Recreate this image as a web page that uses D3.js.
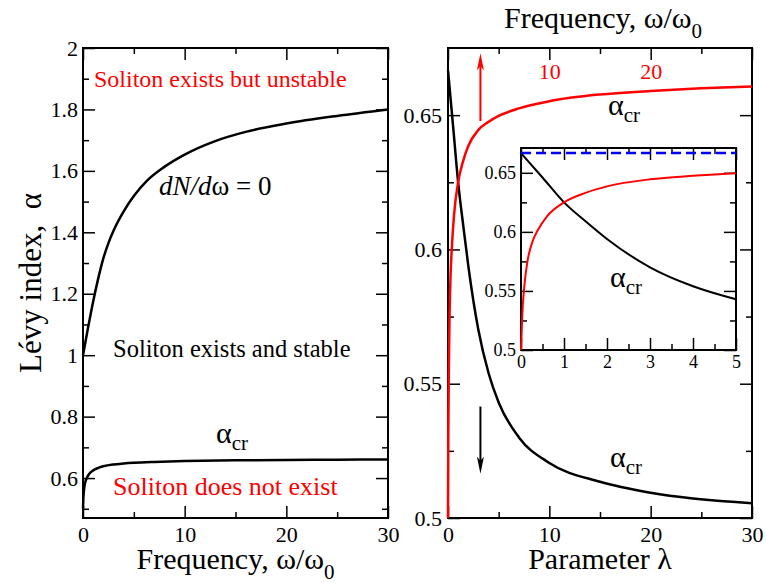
<!DOCTYPE html>
<html>
<head>
<meta charset="utf-8">
<script src="https://cdn.jsdelivr.net/npm/d3@7"></script>
<style>
  body { margin: 0; background: #fff; }
</style>
</head>
<body>
<div class="chart"></div>
<script>
// alpha_cr as function of frequency omega/omega0 (lambda = 0)
const omegaCr = [0, 0.03, 0.08, 0.15, 0.25, 0.4, 0.6, 1, 1.5, 2, 3, 4, 5, 7, 10, 15, 20, 25, 30];
const alphaCrOmega = [0.5, 0.53, 0.555, 0.575, 0.59, 0.602, 0.613, 0.625, 0.633, 0.6385, 0.6445, 0.6475, 0.6497, 0.6525, 0.6552, 0.6577, 0.659, 0.66, 0.6607];

// alpha_cr as function of parameter lambda
const lambdaCr = [0, 0.5, 1, 1.5, 2, 3, 4, 5, 7, 10, 15, 20, 30];
const alphaCrLambda = [0.6667, 0.646, 0.625, 0.609, 0.594, 0.57, 0.554, 0.543, 0.53, 0.5205, 0.5135, 0.5094, 0.5055];

// dN/domega = 0 boundary
const omegaN = [0, 0.5, 1, 1.5, 2, 2.5, 3, 4, 5, 6.3, 8, 10, 13, 16, 20, 25, 30];
const alphaN = [1.0, 1.09, 1.175, 1.25, 1.315, 1.365, 1.405, 1.468, 1.518, 1.568, 1.613, 1.653, 1.697, 1.727, 1.754, 1.779, 1.8];

const alphaLimit = 2 / 3;

// tick values
const leftXTicks = [0, 10, 20, 30];
const leftXMinor = [5, 15, 25];
const leftYTicks = [0.6, 0.8, 1, 1.2, 1.4, 1.6, 1.8, 2];
const leftYMinor = [0.5, 0.7, 0.9, 1.1, 1.3, 1.5, 1.7, 1.9];
const rightXTicks = [0, 10, 20, 30];
const rightXMinor = [5, 15, 25];
const topTicks = [10, 20];
const rightYTicks = [0.5, 0.55, 0.6, 0.65];
const rightYMinor = [0.525, 0.575, 0.625];
const insetXTicks = [0, 1, 2, 3, 4, 5];
const insetXMinor = [0.5, 1.5, 2.5, 3.5, 4.5];
const insetYTicks = [0.5, 0.55, 0.6, 0.65];
const insetYMinor = [0.525, 0.575, 0.625];

const WIDTH = 766, HEIGHT = 583;
const RED = "#ff0000";
const SERIF = '"Liberation Serif", "Times New Roman", Times, serif';
const MAJOR = 12, MINOR = 6;

const svg = d3.select(".chart").append("svg")
    .attr("width", WIDTH)
    .attr("height", HEIGHT)
    .style("font-family", SERIF);

const fmt = d => String(+d.toFixed(3));

// draws a framed box with inward ticks on all four sides
function frame(g, x, y, opt) {
    const [x0, x1] = x.range();
    const [y1, y0] = y.range();
    const fs = opt.fontSize;

    g.append("rect")
        .attr("x", x0).attr("y", y0)
        .attr("width", x1 - x0).attr("height", y1 - y0)
        .attr("fill", "white")
        .attr("stroke", "black")
        .attr("stroke-width", 2);

    const axes = [
        [d3.axisBottom(x).tickValues(opt.xTicks).tickFormat(fmt).tickSize(-MAJOR).tickPadding(opt.xPad), `translate(0,${y1})`],
        [d3.axisBottom(x).tickValues(opt.xMinor).tickFormat("").tickSize(-MINOR), `translate(0,${y1})`],
        [d3.axisTop(x).tickValues(opt.xTicks).tickFormat("").tickSize(-MAJOR), `translate(0,${y0})`],
        [d3.axisTop(x).tickValues(opt.xMinor).tickFormat("").tickSize(-MINOR), `translate(0,${y0})`],
        [d3.axisLeft(y).tickValues(opt.yTicks).tickFormat(fmt).tickSize(-MAJOR).tickPadding(opt.yPad), `translate(${x0},0)`],
        [d3.axisLeft(y).tickValues(opt.yMinor).tickFormat("").tickSize(-MINOR), `translate(${x0},0)`],
        [d3.axisRight(y).tickValues(opt.yTicks).tickFormat("").tickSize(-MAJOR), `translate(${x1},0)`],
        [d3.axisRight(y).tickValues(opt.yMinor).tickFormat("").tickSize(-MINOR), `translate(${x1},0)`]
    ];
    axes.forEach(([ax, tr]) => {
        const a = g.append("g").attr("transform", tr).call(ax)
            .attr("font-family", null).attr("font-size", null);
        a.select(".domain").remove();
        a.selectAll(".tick line").attr("stroke", "black").attr("stroke-width", 1.5);
        a.selectAll(".tick text")
            .attr("fill", "black")
            .style("font-family", SERIF)
            .style("font-size", fs + "px");
    });
}

function curve(g, x, y, xs, ys, color, width) {
    const line = d3.line()
        .x(d => x(d[0]))
        .y(d => y(d[1]))
        .curve(d3.curveMonotoneX);
    g.append("path")
        .datum(xs.map((v, i) => [v, ys[i]]))
        .attr("d", line)
        .attr("fill", "none")
        .attr("stroke", color)
        .attr("stroke-width", width);
}

function label(g, px, py, size, txt, color) {
    return g.append("text")
        .attr("x", px).attr("y", py)
        .attr("fill", color || "black")
        .style("font-family", SERIF)
        .style("font-size", size + "px")
        .text(txt);
}

function alphaCr(g, px, py) {
    const t = label(g, px, py, 30, null);
    t.append("tspan").text("\u03b1");
    t.append("tspan").style("font-size", "21px").attr("dy", 7).text("cr");
}

// Frequency, omega/omega_0 with a lowered subscript
function freqTitle(g, px, py) {
    const t = label(g, px, py, 30, null).attr("text-anchor", "middle");
    t.append("tspan").text("Frequency, \u03c9/\u03c9");
    t.append("tspan").style("font-size", "21px").attr("dy", 10).text("0");
}

function arrow(g, px, yFrom, yTo, color) {
    const dir = yTo < yFrom ? 1 : -1;
    g.append("line")
        .attr("x1", px).attr("x2", px)
        .attr("y1", yFrom).attr("y2", yTo + dir * 8)
        .attr("stroke", color).attr("stroke-width", 2);
    g.append("path")
        .attr("d", `M${px},${yTo} L${px - 3.5},${yTo + dir * 17} L${px},${yTo + dir * 13} L${px + 3.5},${yTo + dir * 17} Z`)
        .attr("fill", color);
}

// ---------- Left panel ----------
const xL = d3.scaleLinear().domain([0, 30]).range([83, 388]);
const yL = d3.scaleLinear().domain([0.47, 2]).range([518, 48]);
const leftPanel = svg.append("g");
frame(leftPanel, xL, yL, {
    xTicks: leftXTicks, xMinor: leftXMinor, yTicks: leftYTicks, yMinor: leftYMinor,
    fontSize: 22, xPad: 8, yPad: 5
});
curve(leftPanel, xL, yL, omegaN, alphaN, "black", 2.5);
curve(leftPanel, xL, yL, omegaCr, alphaCrOmega, "black", 2.5);

label(leftPanel, 94, 87, 24, "Soliton exists but unstable", RED);

const dn = label(leftPanel, 159, 195, 27, null);
dn.append("tspan").style("font-style", "italic").text("dN/d");
dn.append("tspan").text("\u03c9\u00a0= 0");

label(leftPanel, 113, 357, 24.5, "Soliton exists and stable");
alphaCr(leftPanel, 216, 443);
label(leftPanel, 113, 495, 26, "Soliton does not exist", RED);

freqTitle(leftPanel, (83 + 388) / 2, 569);

label(leftPanel, 0, 0, 31, "L\u00e9vy index,\u00a0 \u03b1")
    .attr("transform", "translate(41,283) rotate(-90)")
    .attr("text-anchor", "middle");

// ---------- Right panel ----------
const xR = d3.scaleLinear().domain([0, 30]).range([448, 752]);
const yR = d3.scaleLinear().domain([0.5, 0.675]).range([518, 48]);
const rightPanel = svg.append("g");
frame(rightPanel, xR, yR, {
    xTicks: rightXTicks, xMinor: rightXMinor, yTicks: rightYTicks, yMinor: rightYMinor,
    fontSize: 22, xPad: 8, yPad: 6
});
// red labels of the frequency scale, inside the top edge
const topAxis = rightPanel.append("g").attr("transform", "translate(0,48)")
    .call(d3.axisBottom(xR).tickValues(topTicks).tickSize(MAJOR).tickPadding(3));
topAxis.select(".domain").remove();
topAxis.selectAll(".tick line").remove();
topAxis.selectAll(".tick text")
    .attr("fill", RED)
    .style("font-family", SERIF)
    .style("font-size", "22px");

curve(rightPanel, xR, yR, lambdaCr, alphaCrLambda, "black", 2.5);
curve(rightPanel, xR, yR, omegaCr, alphaCrOmega, RED, 2.5);

arrow(rightPanel, xR(3.2), yR(0.6478), yR(0.673), RED);
arrow(rightPanel, xR(3.2), yR(0.5415), yR(0.5165), "black");

alphaCr(rightPanel, 608, 115);
alphaCr(rightPanel, 610, 467);

freqTitle(rightPanel, 603, 28);
label(rightPanel, 600, 569, 30, "Parameter \u03bb").attr("text-anchor", "middle");

// ---------- Inset ----------
const xI = d3.scaleLinear().domain([0, 5]).range([521, 736]);
const yI = d3.scaleLinear().domain([0.5, 0.671]).range([350, 148]);
const inset = svg.append("g");
frame(inset, xI, yI, {
    xTicks: insetXTicks, xMinor: insetXMinor, yTicks: insetYTicks, yMinor: insetYMinor,
    fontSize: 18, xPad: 5, yPad: 5
});
const lamIdx = lambdaCr.map((v, i) => i).filter(i => lambdaCr[i] <= 5);
curve(inset, xI, yI, lamIdx.map(i => lambdaCr[i]), lamIdx.map(i => alphaCrLambda[i]), "black", 2);
const omIdx = omegaCr.map((v, i) => i).filter(i => omegaCr[i] <= 5);
curve(inset, xI, yI, omIdx.map(i => omegaCr[i]), omIdx.map(i => alphaCrOmega[i]), RED, 2);

inset.append("line")
    .attr("x1", xI(0)).attr("x2", xI(5))
    .attr("y1", yI(alphaLimit)).attr("y2", yI(alphaLimit))
    .attr("stroke", "#0000ff").attr("stroke-width", 2.5)
    .attr("stroke-dasharray", "10,5");

alphaCr(inset, 610, 287);
</script>
</body>
</html>
